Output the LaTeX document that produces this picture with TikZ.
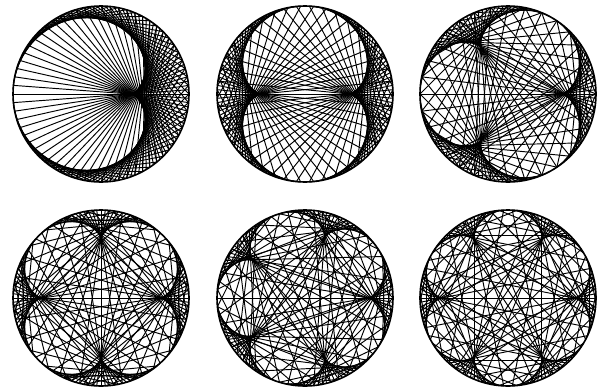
\documentclass[tikz,border=0pt]{standalone}
\usetikzlibrary{calc}
\tikzset{
  chord/.style={line width=0.95pt, black},
  rim/.style={line width=1.6pt, black}
}
\newcommand{\timestable}[3]{%
  \begin{scope}[shift={(#1,#2)}]
    \foreach \i in {0,...,127}{
      \draw[chord] ({2.8125*\i}:88) -- ({2.8125*\i*#3+180}:88);
    }
    \draw[rim] (0,0) circle (88);
  \end{scope}}
\begin{document}
\begin{tikzpicture}[x=1pt,y=-1pt]
  \useasboundingbox[fill=white] (0,0) rectangle (597,389);
  \timestable{101}{94}{2}
  \timestable{305}{94}{3}
  \timestable{508}{94}{4}
  \timestable{101}{298}{5}
  \timestable{305}{298}{6}
  \timestable{508}{298}{7}
\end{tikzpicture}
\end{document}
